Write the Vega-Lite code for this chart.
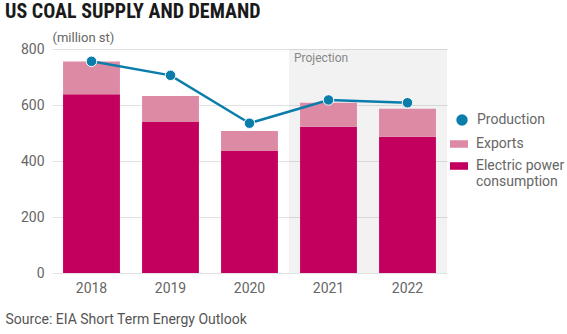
{
  "$schema": "https://vega.github.io/schema/vega-lite/v6.json",
  "width": 395,
  "height": 224,
  "autosize": {"type": "none"},
  "padding": {"left": 52, "top": 49, "right": 120, "bottom": 61},
  "background": "white",
  "title": {
    "text": "US COAL SUPPLY AND DEMAND",
    "anchor": "start",
    "frame": "group",
    "dx": -47,
    "dy": -5,
    "fontSize": 20,
    "fontWeight": "bold",
    "font": "'Roboto Condensed', 'Liberation Sans Narrow', 'DejaVu Sans Condensed', Roboto",
    "color": "#1a1a1a"
  },
  "datasets": {
    "bars": [
      {"year": "2018", "metric": "Electric power consumption", "value": 638, "ord": 1},
      {"year": "2018", "metric": "Exports", "value": 117, "ord": 2},
      {"year": "2019", "metric": "Electric power consumption", "value": 539, "ord": 1},
      {"year": "2019", "metric": "Exports", "value": 93, "ord": 2},
      {"year": "2020", "metric": "Electric power consumption", "value": 436, "ord": 1},
      {"year": "2020", "metric": "Exports", "value": 71, "ord": 2},
      {"year": "2021", "metric": "Electric power consumption", "value": 522, "ord": 1},
      {"year": "2021", "metric": "Exports", "value": 86, "ord": 2},
      {"year": "2022", "metric": "Electric power consumption", "value": 487, "ord": 1},
      {"year": "2022", "metric": "Exports", "value": 100, "ord": 2}
    ],
    "prod": [
      {"year": "2018", "name": "Production", "value": 756},
      {"year": "2019", "name": "Production", "value": 706},
      {"year": "2020", "name": "Production", "value": 535},
      {"year": "2021", "name": "Production", "value": 618},
      {"year": "2022", "name": "Production", "value": 608}
    ],
    "proj": [
      {"year": "2021", "label": "Projection"},
      {"year": "2022", "label": ""}
    ]
  },
  "encoding": {
    "x": {
      "field": "year",
      "type": "nominal",
      "scale": {"domain": ["2018", "2019", "2020", "2021", "2022"], "paddingInner": 0, "paddingOuter": 0},
      "axis": {
        "domain": false,
        "ticks": false,
        "labelAngle": 0,
        "labelPadding": 8,
        "labelFontSize": 14,
        "labelColor": "#666666",
        "title": "Source: EIA Short Term Energy Outlook",
        "titleX": -47,
        "titleY": 50,
        "titleAlign": "left",
        "titleAnchor": "start",
        "titleBaseline": "alphabetic",
        "titleFontWeight": "normal",
        "titleFontSize": 14,
        "titleColor": "#555555"
      }
    }
  },
  "layer": [
    {
      "data": {"name": "proj"},
      "mark": {"type": "rect", "color": "#000000", "opacity": 0.05},
      "encoding": {
        "y": {"datum": 800, "type": "quantitative"},
        "y2": {"datum": 0}
      }
    },
    {
      "data": {"name": "proj"},
      "transform": [{"filter": "datum.label != ''"}],
      "mark": {"type": "text", "align": "left", "baseline": "top", "dx": 5, "dy": 4, "fontSize": 12, "color": "#888888"},
      "encoding": {
        "x": {"field": "year", "type": "nominal", "bandPosition": 0},
        "y": {"datum": 800, "type": "quantitative"},
        "text": {"field": "label"}
      }
    },
    {
      "data": {"name": "bars"},
      "mark": {"type": "bar", "width": {"band": 0.72}},
      "encoding": {
        "y": {
          "field": "value",
          "type": "quantitative",
          "stack": "zero",
          "scale": {"domain": [0, 800]},
          "axis": {
            "grid": true,
            "gridColor": "#e2e2e2",
            "domain": false,
            "ticks": false,
            "values": [0, 200, 400, 600, 800],
            "labelPadding": 8,
            "labelFontSize": 14,
            "labelColor": "#666666",
            "title": "(million st)",
            "titleAngle": 0,
            "titleAlign": "left",
            "titleAnchor": "start",
            "titleX": 0,
            "titleY": -8,
            "titleBaseline": "alphabetic",
            "titleFontWeight": "normal",
            "titleFontSize": 13,
            "titleColor": "#666666"
          }
        },
        "order": {"field": "ord", "type": "quantitative"},
        "color": {
          "field": "metric",
          "type": "nominal",
          "scale": {"domain": ["Exports", "Electric power consumption"], "range": ["#dd8aa4", "#c4005f"]},
          "legend": {
            "title": null,
            "orient": "none",
            "legendX": 398,
            "legendY": 86,
            "symbolType": "M-1,-0.42H1V0.42H-1Z",
            "symbolSize": 324,
            "symbolStrokeWidth": 0,
            "labelFontSize": 14,
            "labelColor": "#666666",
            "labelOffset": 8,
            "labelLimit": 200,
            "rowPadding": 6,
            "labelExpr": "datum.label == 'Electric power consumption' ? ['Electric power', 'consumption'] : datum.label"
          }
        }
      }
    },
    {
      "data": {"name": "prod"},
      "mark": {"type": "line", "color": "#0a7dab", "strokeWidth": 2.5},
      "encoding": {
        "y": {"field": "value", "type": "quantitative"}
      }
    },
    {
      "data": {"name": "prod"},
      "mark": {"type": "point", "filled": true, "size": 110, "stroke": "white", "strokeWidth": 1, "opacity": 1},
      "encoding": {
        "y": {"field": "value", "type": "quantitative"},
        "fill": {
          "field": "name",
          "type": "nominal",
          "scale": {"range": ["#0a7dab"]},
          "legend": {
            "title": null,
            "orient": "none",
            "legendX": 403,
            "legendY": 64,
            "symbolType": "circle",
            "symbolSize": 130,
            "symbolStrokeWidth": 0,
            "labelFontSize": 14,
            "labelColor": "#666666",
            "labelOffset": 8
          }
        }
      }
    }
  ],
  "config": {
    "font": "Roboto",
    "view": {"stroke": null}
  }
}
